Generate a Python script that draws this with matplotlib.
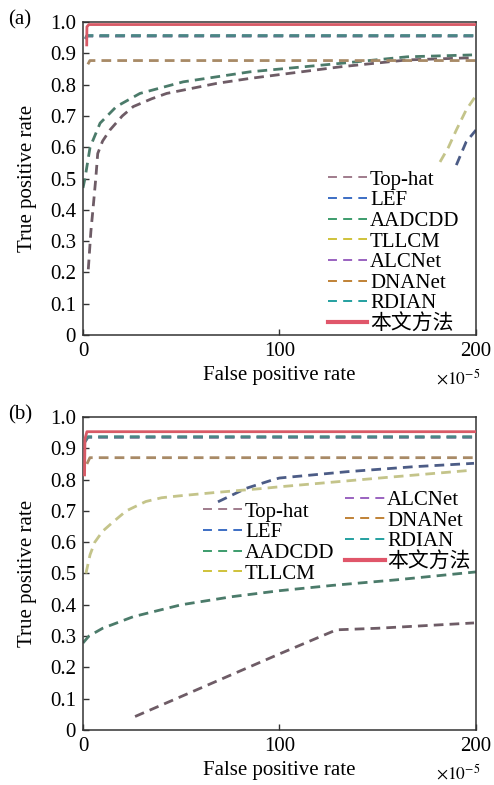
import matplotlib
matplotlib.use('Agg')
import matplotlib.pyplot as plt
from matplotlib.lines import Line2D

plt.rcParams['font.family'] = ['Liberation Serif', 'Noto Sans CJK SC']
plt.rcParams['mathtext.fontset'] = 'stix'

names = ['Top-hat', 'LEF', 'AADCDD', 'TLLCM', 'ALCNet', 'DNANet', 'RDIAN', '本文方法']
# colours of the drawn curves (darker) and of the legend keys (brighter)
line_colors = ['#6e5c66', '#4c5c86', '#4b7b6a', '#c4c48a', '#6e6a8e', '#a88a66', '#4a8686', '#d85a66']
key_colors = ['#a07c8c', '#3c6ec4', '#3c9c6c', '#cfc23a', '#9a62c0', '#c08236', '#24a0a0', '#e0566a']

# ---- panel (a) ----
a_tophat_x = [2.7, 4, 5.2, 6.5, 7.5, 10, 13.7, 20, 25.6, 35, 42.6, 68, 85, 131, 165, 198]
a_tophat_y = [0.21, 0.33, 0.41, 0.50, 0.58, 0.62, 0.655, 0.70, 0.73, 0.755, 0.772, 0.804, 0.82, 0.857, 0.879, 0.886]
a_lef_x = [190, 195, 200]
a_lef_y = [0.543, 0.617, 0.655]
a_aadcdd_x = [0, 1, 3.6, 8.7, 17, 29, 51, 85, 131, 165, 198]
a_aadcdd_y = [0.47, 0.50, 0.60, 0.677, 0.73, 0.772, 0.809, 0.841, 0.868, 0.889, 0.895]
a_tllcm_x = [181.7, 186, 190, 195, 200]
a_tllcm_y = [0.553, 0.60, 0.655, 0.719, 0.765]
a_alcnet_x = [1.2, 2, 200]
a_alcnet_y = [0.945, 0.955, 0.955]
a_dnanet_x = [2.5, 3.5, 200]
a_dnanet_y = [0.865, 0.877, 0.877]
a_rdian_x = [1.2, 2, 200]
a_rdian_y = [0.948, 0.957, 0.957]
a_ours_x = [1.9, 2.0, 3.0, 200]
a_ours_y = [0.927, 0.985, 0.992, 0.992]

# ---- panel (b) ----
b_tophat_x = [26.5, 100, 129, 150, 199]
b_tophat_y = [0.043, 0.243, 0.32, 0.325, 0.342]
b_lef_x = [68.7, 83, 97, 100, 134, 168, 199]
b_lef_y = [0.729, 0.772, 0.80, 0.805, 0.825, 0.841, 0.852]
b_aadcdd_x = [0, 3, 10, 25.6, 50, 76, 100, 127, 160, 200]
b_aadcdd_y = [0.278, 0.30, 0.325, 0.362, 0.40, 0.426, 0.445, 0.462, 0.48, 0.505]
b_tllcm_x = [1.5, 3.6, 6, 10, 15.4, 22, 32, 40, 49, 66, 92, 100, 151, 198]
b_tllcm_y = [0.50, 0.56, 0.60, 0.635, 0.665, 0.70, 0.73, 0.742, 0.748, 0.758, 0.772, 0.777, 0.805, 0.83]
b_alcnet_x = [1.0, 2.5, 200]
b_alcnet_y = [0.92, 0.935, 0.935]
b_dnanet_x = [2.0, 3.5, 200]
b_dnanet_y = [0.85, 0.87, 0.87]
b_rdian_x = [1.0, 2.5, 200]
b_rdian_y = [0.922, 0.937, 0.937]
b_ours_x = [0.8, 1.0, 2.0, 200]
b_ours_y = [0.815, 0.93, 0.953, 0.953]

panel_a = [(a_tophat_x, a_tophat_y), (a_lef_x, a_lef_y), (a_aadcdd_x, a_aadcdd_y),
           (a_tllcm_x, a_tllcm_y), (a_alcnet_x, a_alcnet_y), (a_dnanet_x, a_dnanet_y),
           (a_rdian_x, a_rdian_y), (a_ours_x, a_ours_y)]
panel_b = [(b_tophat_x, b_tophat_y), (b_lef_x, b_lef_y), (b_aadcdd_x, b_aadcdd_y),
           (b_tllcm_x, b_tllcm_y), (b_alcnet_x, b_alcnet_y), (b_dnanet_x, b_dnanet_y),
           (b_rdian_x, b_rdian_y), (b_ours_x, b_ours_y)]

yticks = [0, 0.1, 0.2, 0.3, 0.4, 0.5, 0.6, 0.7, 0.8, 0.9, 1.0]
ytick_labels = ['0', '0.1', '0.2', '0.3', '0.4', '0.5', '0.6', '0.7', '0.8', '0.9', '1.0']
xticks = [0, 100, 200]

fig = plt.figure(figsize=(4.94, 7.85), dpi=100)
ax_a = fig.add_axes([0.168, 0.5732, 0.7955, 0.3987])
ax_b = fig.add_axes([0.168, 0.0701, 0.7955, 0.3987])


def draw(ax, data):
    for i, (x, y) in enumerate(data):
        if i == 7:
            ax.plot(x, y, color=line_colors[i], lw=2.0, zorder=5)
        else:
            ax.plot(x, y, color=line_colors[i], lw=2.0, dashes=(3.5, 2.2))
    ax.set_xlim(0, 200)
    ax.set_ylim(0, 1.0)
    ax.set_xticks(xticks)
    ax.set_yticks(yticks)
    ax.set_yticklabels(ytick_labels)
    ax.tick_params(direction='in', length=4, width=1, labelsize=15, pad=5, color='#333333')
    for s in ax.spines.values():
        s.set_linewidth(1.1)
        s.set_color('#333333')
    ax.set_xlabel('False positive rate', fontsize=15)
    ax.set_ylabel('True positive rate', fontsize=15)
    ax.yaxis.set_label_coords(-0.117, 0.5)
    ax.xaxis.set_label_coords(0.5, -0.1)
    ax.text(1.01, -0.14, r'$\times10^{-5}$', transform=ax.transAxes,
            ha='right', va='center', fontsize=12.5)


def keys(idx):
    hs = []
    for i in idx:
        if i == 7:
            hs.append(Line2D([], [], color=key_colors[i], lw=3))
        else:
            hs.append(Line2D([], [], color=key_colors[i], lw=1.4, dashes=(4.6, 3.2)))
    return hs


legend_opts = dict(frameon=False, fontsize=15, handlelength=1.9, handletextpad=0.12,
                   labelspacing=0.05, borderpad=0, borderaxespad=0, loc='upper left')

draw(ax_a, panel_a)
ax_a.legend(keys(range(8)), names, bbox_to_anchor=(0.623, 0.527), **legend_opts)

draw(ax_b, panel_b)
leg1 = ax_b.legend(keys(range(4)), names[:4], bbox_to_anchor=(0.305, 0.728), **legend_opts)
ax_b.add_artist(leg1)
ax_b.legend(keys(range(4, 8)), names[4:], bbox_to_anchor=(0.667, 0.765), **legend_opts)

fig.text(8 / 494, 1 - 20 / 785, '(a)', fontsize=15, va='center', ha='left')
fig.text(8 / 494, 1 - 415 / 785, '(b)', fontsize=15, va='center', ha='left')

fig.savefig('out.png', dpi=100)
